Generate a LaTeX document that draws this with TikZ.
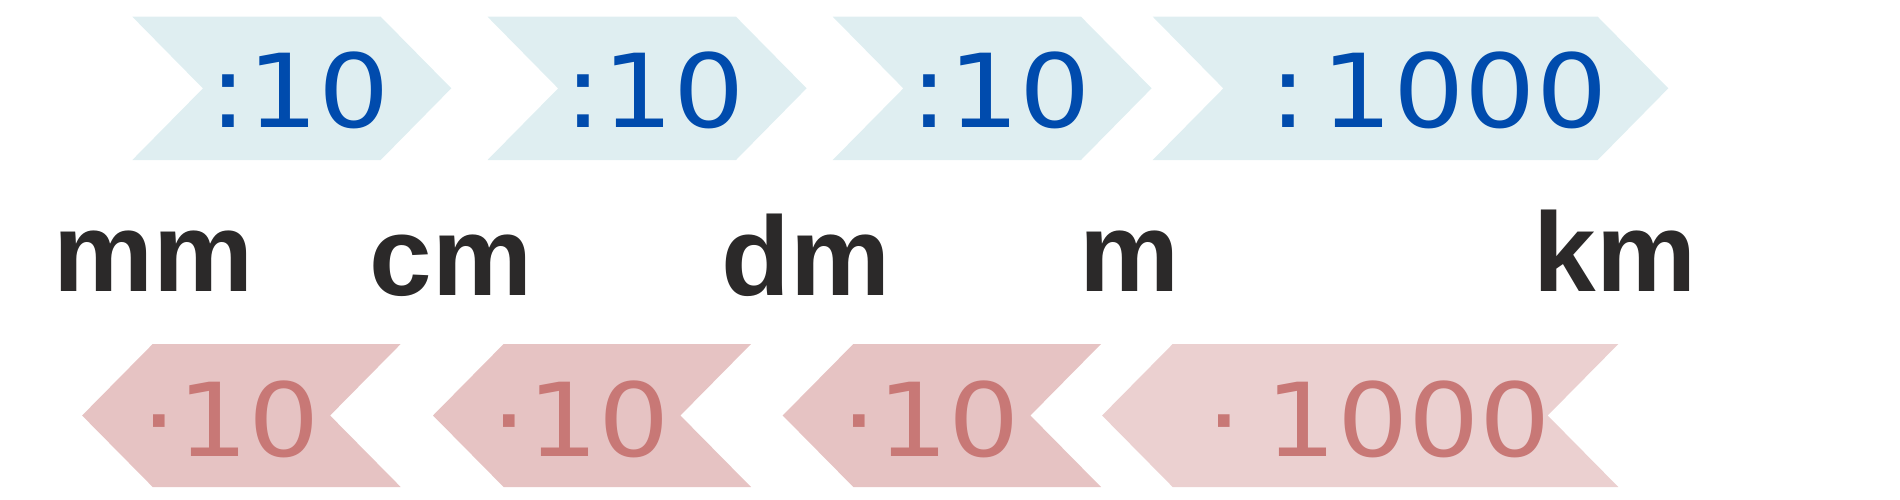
\documentclass[tikz,border=0pt]{standalone}
\usepackage{fontspec}
\setmainfont{DejaVu Sans}
\newfontfamily\einheitfont{Liberation Sans}
\definecolor{pfeilblau}{HTML}{DFEEF1}
\definecolor{zifferblau}{HTML}{004BAD}
\definecolor{pfeilrot}{HTML}{E6C3C3}
\definecolor{pfeilrosa}{HTML}{EBD0D0}
\definecolor{zifferrot}{HTML}{C87876}
\definecolor{einheitgrau}{HTML}{2B2929}
\newcommand\breit[1]{\scalebox{1.1}[1]{#1}}

\begin{document}
\begin{tikzpicture}[x=0.01cm,y=-0.01cm,
  zahloben/.style={text=zifferblau,font=\fontsize{29}{30}\selectfont,inner sep=0,anchor=base},
  zahlunten/.style={text=zifferrot,font=\fontsize{29}{30}\selectfont,inner sep=0,anchor=base},
  einheit/.style={text=einheitgrau,font=\einheitfont\bfseries\fontsize{32}{34}\selectfont,inner sep=0,anchor=base}]
  \useasboundingbox (0,0) rectangle (1900,500);
  % Pfeile oben
  \foreach \l/\r in {132.3/380.7,487.5/736,832.7/1081,1152.7/1597.7}
    \fill[pfeilblau] (\l,16.7) -- (\r,16.7) -- ++(70.6,71.6) -- (\r,160) -- (\l,160) -- ++(70.6,-71.6) -- cycle;
  % Pfeile unten
  \foreach \l/\r/\c in {152.7/400.7/pfeilrot,503.6/751/pfeilrot,853.3/1101/pfeilrot,1172.7/1618.3/pfeilrosa}
    \fill[\c] (\l,344) -- (\r,344) -- ++(-70.6,71.5) -- (\r,487) -- (\l,487) -- ++(-70.6,-71.5) -- cycle;
  % Faktoren
  \node[zahloben] (o1) at (300,127.3) {\breit{:10}};
  \node[zahloben] (o2) at (655,127.3) {\breit{:10}};
  \node[zahloben] (o3) at (1001,127.3) {\breit{:10}};
  \node[zahloben] (o4) at (1438.7,127.3) {\breit{:\hspace{0.13cm}1000}};
  \node[zahlunten] (u1) at (231,456) {\breit{·10}};
  \node[zahlunten] (u2) at (581,456) {\breit{·10}};
  \node[zahlunten] (u3) at (931,456) {\breit{·10}};
  \node[zahlunten] (u4) at (1378.7,456) {\breit{·\hspace{0.22cm}1000}};
  % Einheiten
  \node[einheit] (mm) at (154,291.5) {mm};
  \node[einheit] (cm) at (450.8,295) {cm};
  \node[einheit] (dm) at (806,295) {dm};
  \node[einheit] (m) at (1129.7,291.5) {m};
  \node[einheit] (km) at (1615,291.5) {km};
\end{tikzpicture}
\end{document}
